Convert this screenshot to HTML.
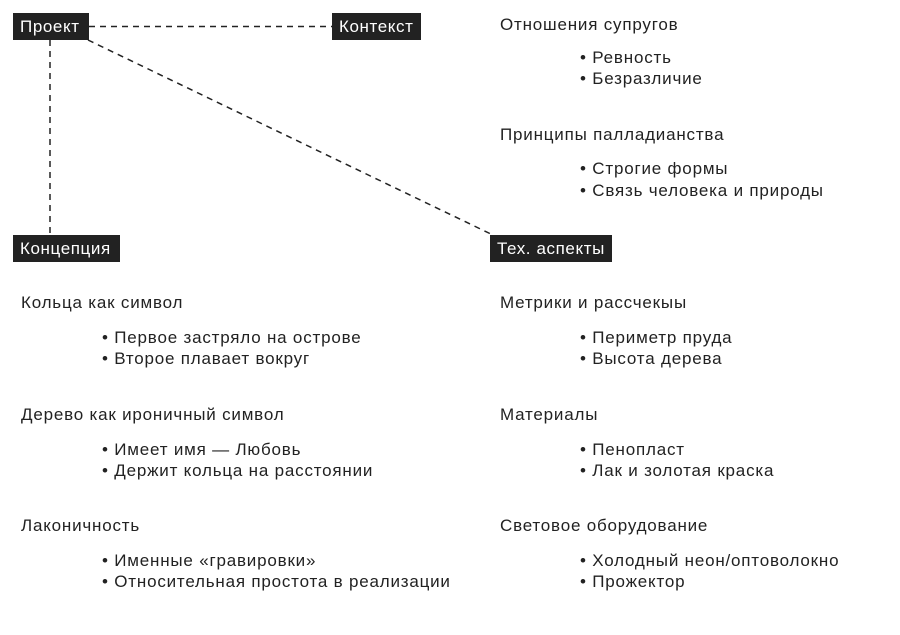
<!DOCTYPE html>
<html><head><meta charset="utf-8"><style>
body{margin:0;width:900px;height:635px;background:#fff;position:relative;overflow:hidden;font-family:"Liberation Sans","DejaVu Sans",sans-serif;color:#222;}
.b{position:absolute;background:#222;color:#fff;font-size:17px;letter-spacing:0.6px;line-height:27px;padding:0 7px;box-sizing:border-box;height:27px;white-space:nowrap}
.t{position:absolute;font-size:17px;letter-spacing:0.8px;line-height:20px;white-space:nowrap;color:#222}
svg{position:absolute;left:0;top:0}
</style></head><body>
<svg width="900" height="635"><g stroke="#222" stroke-width="1.5" stroke-dasharray="6,5" fill="none">
<line x1="89" y1="26.5" x2="332" y2="26.5"/>
<line x1="50" y1="40" x2="50" y2="235"/>
<line x1="88" y1="40" x2="495" y2="236"/>
</g></svg>
<div class="b" style="left:13px;top:13px;width:76px">Проект</div>
<div class="b" style="left:332px;top:13px;width:89px">Контекст</div>
<div class="b" style="left:13px;top:235px;width:107px">Концепция</div>
<div class="b" style="left:490px;top:235px;width:122px">Тех. аспекты</div>

<div class="t" style="left:500px;top:15px">Отношения супругов</div>
<div class="t" style="left:580px;top:48px">• Ревность</div>
<div class="t" style="left:580px;top:69px">• Безразличие</div>
<div class="t" style="left:500px;top:125px">Принципы палладианства</div>
<div class="t" style="left:580px;top:159px">• Строгие формы</div>
<div class="t" style="left:580px;top:181px">• Связь человека и природы</div>

<div class="t" style="left:21px;top:293px">Кольца как символ</div>
<div class="t" style="left:102px;top:328px">• Первое застряло на острове</div>
<div class="t" style="left:102px;top:349px">• Второе плавает вокруг</div>
<div class="t" style="left:21px;top:405px">Дерево как ироничный символ</div>
<div class="t" style="left:102px;top:440px">• Имеет имя — Любовь</div>
<div class="t" style="left:102px;top:461px">• Держит кольца на расстоянии</div>
<div class="t" style="left:21px;top:516px">Лаконичность</div>
<div class="t" style="left:102px;top:551px">• Именные «гравировки»</div>
<div class="t" style="left:102px;top:572px">• Относительная простота в реализации</div>

<div class="t" style="left:500px;top:293px">Метрики и рассчекыы</div>
<div class="t" style="left:580px;top:328px">• Периметр пруда</div>
<div class="t" style="left:580px;top:349px">• Высота дерева</div>
<div class="t" style="left:500px;top:405px">Материалы</div>
<div class="t" style="left:580px;top:440px">• Пенопласт</div>
<div class="t" style="left:580px;top:461px">• Лак и золотая краска</div>
<div class="t" style="left:500px;top:516px">Световое оборудование</div>
<div class="t" style="left:580px;top:551px">• Холодный неон/оптоволокно</div>
<div class="t" style="left:580px;top:572px">• Прожектор</div>
</body></html>
